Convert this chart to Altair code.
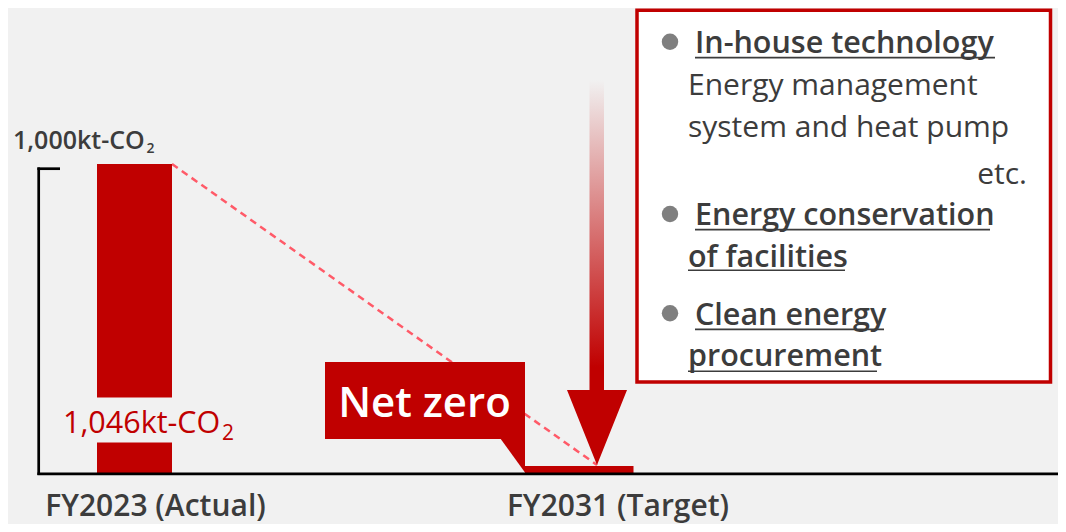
import altair as alt
import pandas as pd

# ---------------- data ----------------
categories = ["FY2023 (Actual)", "FY2031 (Target)"]
emissions_kt = [1046, 0]
axis_label = "1,000kt-CO"
bar_label = "1,046kt-CO"
subscript = "2"
callout_text = "Net zero"
measure_heads = ["In-house technology", "Energy conservation", "of facilities",
                 "Clean energy", "procurement"]
measure_body = ["Energy management", "system and heat pump"]
measure_etc = "etc."

# ---------------- layout (reference pixel space) ----------------
W, H = 1050, 516
X0, Y0 = 8, 8
BASE_Y, TOP_Y = 473, 164
BG = "#f1f1f1"
RED = "#c00000"
TXT = "#3c3c3c"
FONT = "Open Sans"

xs = alt.Scale(domain=[X0, X0 + W], nice=False, zero=False)
ys = alt.Scale(domain=[Y0, Y0 + H], reverse=True, nice=False, zero=False)
k = (BASE_Y - TOP_Y) / emissions_kt[0]
ys_val = alt.Scale(domain=[-(Y0 + H - BASE_Y) / k, (BASE_Y - Y0) / k], nice=False, zero=False)


def X(f):
    return alt.X(f, type="quantitative", scale=xs, axis=None)


def Y(f):
    return alt.Y(f, type="quantitative", scale=ys, axis=None)


def df(**cols):
    return pd.DataFrame(cols)


def texts(items, **mk):
    d = df(t=[i[0] for i in items], x=[i[1] for i in items], y=[i[2] for i in items])
    return alt.Chart(d).mark_text(baseline="alphabetic", font=FONT, **mk).encode(
        x=X("x"), y=Y("y"), text="t:N")


layers = []

# arrow shaft with gradient
grad = alt.LinearGradient(gradient="linear", x1=0, x2=0, y1=0, y2=1, stops=[
    alt.GradientStop(color=BG, offset=0),
    alt.GradientStop(color=RED, offset=0.92),
    alt.GradientStop(color=RED, offset=1)])
layers.append(alt.Chart(df(x=[589.5], x2=[604], y=[80], y2=[392])).mark_rect(fill=grad).encode(
    x=X("x"), x2="x2", y=Y("y"), y2="y2"))

# measures box
layers.append(alt.Chart(df(x=[637], x2=[1050.5], y=[10.3], y2=[382])).mark_rect(
    fill="white", stroke=RED, strokeWidth=3.5).encode(x=X("x"), x2="x2", y=Y("y"), y2="y2"))

# bullets
layers.append(alt.Chart(df(x=[670, 670, 670], y=[41.7, 214, 313.3])).mark_circle(
    size=270, color="#7f7f7f", opacity=1).encode(x=X("x"), y=Y("y")))

# headings (underlined)
head_pos = [(695, 53.3), (695, 225), (688, 267.3), (695, 325), (688, 366)]
layers.append(texts([(t, p[0], p[1]) for t, p in zip(measure_heads, head_pos)],
                    align="left", fontSize=30.5, fontWeight=600, color=TXT))
ul = df(x=[695, 695, 688, 695, 688], x2=[995, 990, 845, 884, 877],
        y=[57.6, 229.6, 270.2, 329.4, 371.2])
layers.append(alt.Chart(ul).mark_rule(color=TXT, strokeWidth=1.6).encode(
    x=X("x"), x2="x2", y=Y("y")))
layers.append(texts([(measure_body[0], 688, 95), (measure_body[1], 688, 136.7)],
                    align="left", fontSize=30, color=TXT))
layers.append(texts([(measure_etc, 1027, 184)], align="right", fontSize=30, color=TXT))

# dashed trajectory
layers.append(alt.Chart(df(x=[172, 597], y=[164, 465])).mark_line(
    color="#ff5a68", strokeWidth=2.5, strokeDash=[7, 5]).encode(x=X("x"), y=Y("y")))

# bars (value scale)
bars = df(cat=categories[:1], v=emissions_kt[:1], x=[97], x2=[172])
layers.append(alt.Chart(bars).mark_rect(color=RED).encode(
    x=X("x"), x2="x2",
    y=alt.Y("v:Q", scale=ys_val, axis=None), y2=alt.datum(0)))
# gap behind the value label
layers.append(alt.Chart(df(x=[95], x2=[174], y=[397.5], y2=[442.5])).mark_rect(color=BG).encode(
    x=X("x"), x2="x2", y=Y("y"), y2="y2"))
# target (net zero) bar
tgt = df(cat=categories[1:], v=emissions_kt[1:], x=[525], x2=[633.5])
layers.append(alt.Chart(tgt).mark_rule(color=RED, strokeWidth=7, yOffset=-3.5).encode(
    x=X("x"), x2="x2", y=alt.Y("v:Q", scale=ys_val, axis=None)))

# callout
layers.append(alt.Chart(df(x=[325], x2=[525], y=[362], y2=[439])).mark_rect(color=RED).encode(
    x=X("x"), x2="x2", y=Y("y"), y2="y2"))
layers.append(alt.Chart(df(x=[500, 525], y=[438, 438], y2=[438, 472.5])).mark_area(
    color=RED, orient="vertical").encode(x=X("x"), y=Y("y"), y2="y2"))
layers.append(texts([(callout_text, 424.5, 416.7)], align="center", fontSize=42,
                    fontWeight=600, color="white"))

# arrow head
layers.append(alt.Chart(df(x=[567, 597, 627], y=[390, 390, 390], y2=[390, 465, 390])).mark_area(
    color=RED, orient="vertical").encode(x=X("x"), y=Y("y"), y2="y2"))

# axis bracket + baseline
layers.append(alt.Chart(df(x=[38.7, 37.4, 37.4], x2=[38.7, 60, 1066], y=[167.5, 168.7, 473.8],
                           y2=[475, 168.7, 473.8])).mark_rule(color="#000000", strokeWidth=2.7).encode(
    x=X("x"), x2="x2", y=Y("y"), y2="y2"))

# labels
layers.append(texts([(axis_label, 13, 149.3)], align="left", fontSize=25, fontWeight=600, color=TXT))
layers.append(texts([(subscript, 146.5, 153.3)], align="left", fontSize=14, fontWeight=600, color=TXT))
layers.append(texts([(bar_label, 63, 432.7)], align="left", fontSize=30.5, color=RED))
layers.append(texts([(subscript, 222, 440)], align="left", fontSize=21, color=RED))
layers.append(texts([(categories[0], 155.5, 516), (categories[1], 618, 516)],
                    align="center", fontSize=30, fontWeight=600, color=TXT))

chart = alt.layer(*layers).properties(
    width=W, height=H, background=BG, padding=0,
    autosize=alt.AutoSizeParams(type="none"),
).resolve_scale(y="independent").configure_view(strokeWidth=0)

chart.save("out.html", embed_options={"renderer": "svg", "actions": False})
